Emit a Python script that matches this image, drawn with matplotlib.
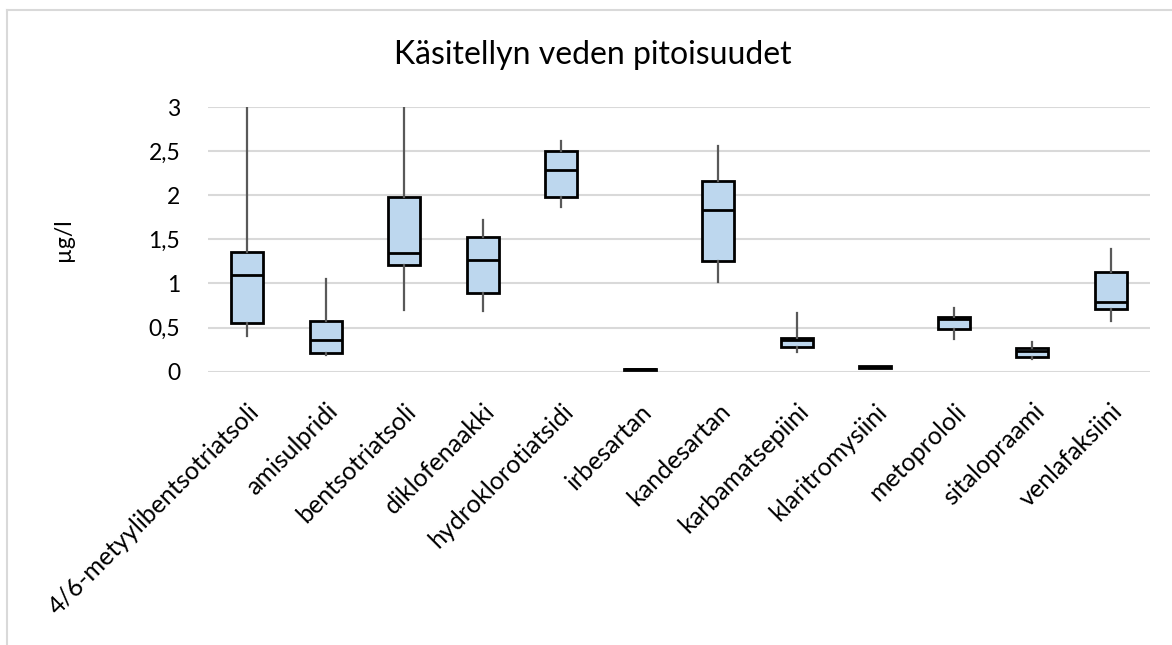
import matplotlib.pyplot as plt
from matplotlib.lines import Line2D

plt.rcParams['font.family'] = ['Lato', 'DejaVu Sans']

categories = ['4/6-metyylibentsotriatsoli', 'amisulpridi', 'bentsotriatsoli', 'diklofenaakki',
              'hydroklorotiatsidi', 'irbesartan', 'kandesartan', 'karbamatsepiini',
              'klaritromysiini', 'metoprololi', 'sitalopraami', 'venlafaksiini']
whisker_low = [0.40, 0.19, 0.70, 0.69, 1.87, 0.02, 1.02, 0.22, 0.04, 0.37, 0.14, 0.575]
q1 = [0.556, 0.215, 1.21, 0.89, 1.98, 0.02, 1.25, 0.277, 0.04, 0.48, 0.17, 0.71]
median = [1.10, 0.36, 1.345, 1.27, 2.29, 0.025, 1.835, 0.36, 0.055, 0.595, 0.235, 0.795]
q3 = [1.355, 0.575, 1.98, 1.53, 2.505, 0.03, 2.157, 0.38, 0.07, 0.625, 0.265, 1.125]
whisker_high = [3.0, 1.05, 3.0, 1.72, 2.61, 0.03, 2.555, 0.66, 0.07, 0.72, 0.34, 1.39]

yticks = [0, 0.5, 1, 1.5, 2, 2.5, 3]
ytick_labels = ['0', '0,5', '1', '1,5', '2', '2,5', '3']

stats = []
for i, name in enumerate(categories):
    stats.append({'label': name, 'whislo': whisker_low[i], 'q1': q1[i], 'med': median[i],
                  'q3': q3[i], 'whishi': whisker_high[i]})

fig = plt.figure(figsize=(11.72, 6.45), dpi=100)
ax = fig.add_axes([208 / 1172, 1 - 371.7 / 645, (1150 - 208) / 1172, (371.7 - 107) / 645])

ax.bxp(stats, positions=range(len(categories)), widths=0.41, patch_artist=True,
       showfliers=False, showcaps=False,
       boxprops=dict(facecolor='#BDD7EE', edgecolor='black', linewidth=2),
       medianprops=dict(color='black', linewidth=2),
       whiskerprops=dict(color='#595959', linewidth=1.6),
       zorder=3)

ax.set_xlim(-0.5, len(categories) - 0.5)
ax.set_ylim(0, 3)
ax.set_yticks(yticks)
ax.set_yticklabels(ytick_labels, fontsize=16.5)
ax.set_xticks(range(len(categories)))
ax.set_xticklabels(categories, rotation=45, ha='right', rotation_mode='anchor', fontsize=18)
ax.tick_params(length=0)
ax.tick_params(axis='y', pad=20)
ax.tick_params(axis='x', pad=20)
ax.grid(axis='y', color='#D9D9D9', linewidth=1.5, zorder=0)
ax.set_axisbelow(True)
for s in ax.spines.values():
    s.set_visible(False)

fig.text(63 / 1172, 1 - 240 / 645, 'µg/l', rotation=90, ha='center', va='center', fontsize=16.5)
fig.text(0.506, 1 - 55 / 645, 'Käsitellyn veden pitoisuudet', ha='center', va='center', fontsize=23)

# chart frame (left and top edges visible)
fig.add_artist(Line2D([7 / 1172, 7 / 1172], [0, 1 - 10 / 645], transform=fig.transFigure,
                      color='#D9D9D9', linewidth=1.5))
fig.add_artist(Line2D([7 / 1172, 1], [1 - 10 / 645, 1 - 10 / 645], transform=fig.transFigure,
                      color='#D9D9D9', linewidth=1.5))

fig.savefig('out.png', dpi=100)
